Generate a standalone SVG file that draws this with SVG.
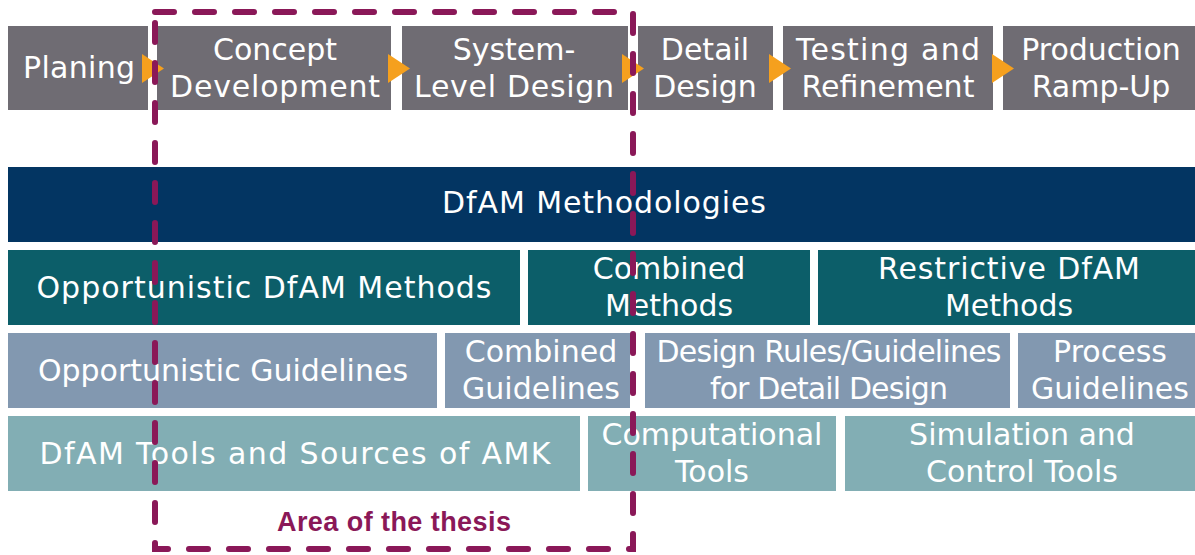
<svg xmlns="http://www.w3.org/2000/svg" width="1195" height="555" viewBox="0 0 1195 555">
<style>
text{font-family:"DejaVu Sans","Verdana",sans-serif;font-size:30px;fill:#fff;text-anchor:middle}
.ph{fill:#6f6c73}
.top{fill:#033562}
.meth{fill:#0c5e69}
.guide{fill:#8298b0}
.tool{fill:#82aeb4}
.arr{fill:#f5a01e}
.area{fill:none;stroke:#8a1858;stroke-width:6;stroke-dasharray:19 21;stroke-linecap:round}
.lbl{font-family:"Liberation Sans",Arial,sans-serif;font-weight:bold;font-size:27px;fill:#8a1858}
</style>
<rect width="1195" height="555" fill="#fff"/>
<g id="planing"><rect class="ph" x="8" y="26" width="140" height="84"/><text x="79" y="78" textLength="112">Planing</text></g>
<g id="concept"><rect class="ph" x="157" y="26" width="234" height="84"/><text x="275" y="60">Concept</text><text x="275" y="97" textLength="210">Development</text></g>
<g id="system"><rect class="ph" x="402" y="26" width="226" height="84"/><text x="514" y="60">System-</text><text x="514" y="97" textLength="200">Level Design</text></g>
<g id="detail"><rect class="ph" x="638" y="26" width="135" height="84"/><text x="705" y="60">Detail</text><text x="705" y="97">Design</text></g>
<g id="testing"><rect class="ph" x="783" y="26" width="210" height="84"/><text x="888" y="60" textLength="184">Testing and</text><text x="888" y="97">Refinement</text></g>
<g id="production"><rect class="ph" x="1003" y="26" width="192" height="84"/><text x="1101" y="60">Production</text><text x="1101" y="97">Ramp-Up</text></g>
<g id="connectors">
<polygon class="arr" points="142,54 164,68.5 142,83"/>
<polygon class="arr" points="388,54 410,68.5 388,83"/>
<polygon class="arr" points="622,54 644,68.5 622,83"/>
<polygon class="arr" points="769,54 791,68.5 769,83"/>
<polygon class="arr" points="992,54 1014,68.5 992,83"/>
</g>
<g id="dfam-methodologies"><rect class="top" x="8" y="167" width="1187" height="75"/><text x="604" y="213" textLength="324">DfAM Methodologies</text></g>
<g id="opportunistic-methods"><rect class="meth" x="8" y="250" width="512" height="75"/><text x="264" y="298" textLength="455">Opportunistic DfAM Methods</text></g>
<g id="combined-methods"><rect class="meth" x="528" y="250" width="282" height="75"/><text x="669" y="279">Combined</text><text x="669" y="316">Methods</text></g>
<g id="restrictive-methods"><rect class="meth" x="818" y="250" width="377" height="75"/><text x="1009" y="279" textLength="262">Restrictive DfAM</text><text x="1009" y="316">Methods</text></g>
<g id="opportunistic-guidelines"><rect class="guide" x="8" y="333" width="429" height="75"/><text x="223" y="381">Opportunistic Guidelines</text></g>
<g id="combined-guidelines"><rect class="guide" x="445" y="333" width="185" height="75"/><text x="541" y="362">Combined</text><text x="541" y="399">Guidelines</text></g>
<g id="design-rules"><rect class="guide" x="645" y="333" width="365" height="75"/><text x="829" y="362" textLength="345">Design Rules/Guidelines</text><text x="829" y="399" textLength="238">for Detail Design</text></g>
<g id="process-guidelines"><rect class="guide" x="1018" y="333" width="177" height="75"/><text x="1110" y="362">Process</text><text x="1110" y="399">Guidelines</text></g>
<g id="dfam-tools"><rect class="tool" x="8" y="416" width="572" height="75"/><text x="295" y="464" textLength="511">DfAM Tools and Sources of AMK</text></g>
<g id="computational-tools"><rect class="tool" x="588" y="416" width="248" height="75"/><text x="712" y="445">Computational</text><text x="712" y="482">Tools</text></g>
<g id="simulation-tools"><rect class="tool" x="845" y="416" width="350" height="75"/><text x="1022" y="445">Simulation and</text><text x="1022" y="482">Control Tools</text></g>
<g id="thesis-area"><rect class="area" x="155" y="12" width="478" height="537"/><text class="lbl" x="394" y="531" textLength="234">Area of the thesis</text></g>
</svg>
